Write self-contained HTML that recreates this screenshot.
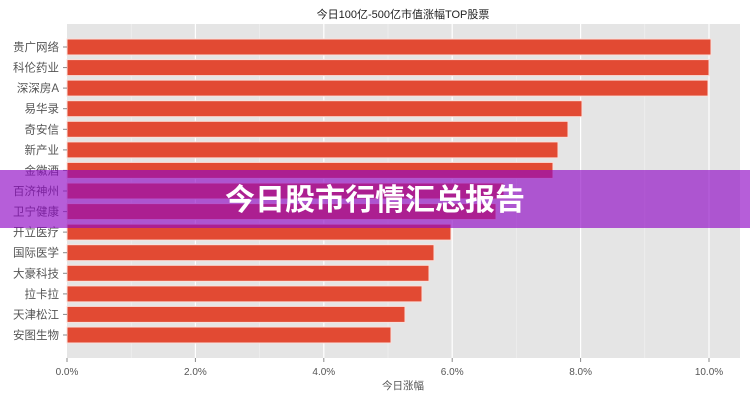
<!DOCTYPE html>
<html><head><meta charset="utf-8"><style>
body{margin:0;width:750px;height:400px;background:#fff;overflow:hidden;position:relative;font-family:"Liberation Sans","Noto Sans CJK SC",sans-serif}
</style></head><body>
<svg width="750" height="400" style="position:absolute;left:0;top:0" font-family="Liberation Sans, Noto Sans CJK SC, sans-serif">
<rect x="67" y="24" width="673" height="334" fill="#e5e5e5"/>
<g stroke="#f2f2f2" stroke-width="0.6">
<line x1="131.2" y1="24" x2="131.2" y2="358"/><line x1="259.6" y1="24" x2="259.6" y2="358"/><line x1="388" y1="24" x2="388" y2="358"/><line x1="516.4" y1="24" x2="516.4" y2="358"/><line x1="644.8" y1="24" x2="644.8" y2="358"/>
</g>
<g stroke="#fff" stroke-width="1.2">
<line x1="195.4" y1="24" x2="195.4" y2="358"/><line x1="323.8" y1="24" x2="323.8" y2="358"/><line x1="452.2" y1="24" x2="452.2" y2="358"/><line x1="580.6" y1="24" x2="580.6" y2="358"/><line x1="709" y1="24" x2="709" y2="358"/>
</g>
<g stroke="#888" stroke-width="1">
<line x1="67" y1="358" x2="67" y2="362"/><line x1="195.4" y1="358" x2="195.4" y2="362"/><line x1="323.8" y1="358" x2="323.8" y2="362"/><line x1="452.2" y1="358" x2="452.2" y2="362"/><line x1="580.6" y1="358" x2="580.6" y2="362"/><line x1="709" y1="358" x2="709" y2="362"/>
</g>
<g fill="#e24a33" stroke="#fbe0db" stroke-width="1">
<rect x="67" y="39" width="644" height="16"/>
<rect x="67" y="59.6" width="642" height="16"/>
<rect x="67" y="80.1" width="641" height="16"/>
<rect x="67" y="100.7" width="515" height="16"/>
<rect x="67" y="121.3" width="501" height="16"/>
<rect x="67" y="141.9" width="491" height="16"/>
<rect x="67" y="162.4" width="486" height="16"/>
<rect x="67" y="183" width="437" height="16"/>
<rect x="67" y="203.6" width="429" height="16"/>
<rect x="67" y="224.1" width="384" height="16"/>
<rect x="67" y="244.7" width="367" height="16"/>
<rect x="67" y="265.3" width="362" height="16"/>
<rect x="67" y="285.9" width="355" height="16"/>
<rect x="67" y="306.4" width="338" height="16"/>
<rect x="67" y="327" width="324" height="16"/>
</g>
<g stroke="#888" stroke-width="1">
<line x1="63" y1="47" x2="67" y2="47"/><line x1="63" y1="67.6" x2="67" y2="67.6"/><line x1="63" y1="88.1" x2="67" y2="88.1"/><line x1="63" y1="108.7" x2="67" y2="108.7"/><line x1="63" y1="129.3" x2="67" y2="129.3"/><line x1="63" y1="149.9" x2="67" y2="149.9"/><line x1="63" y1="170.4" x2="67" y2="170.4"/><line x1="63" y1="191" x2="67" y2="191"/><line x1="63" y1="211.6" x2="67" y2="211.6"/><line x1="63" y1="232.1" x2="67" y2="232.1"/><line x1="63" y1="252.7" x2="67" y2="252.7"/><line x1="63" y1="273.3" x2="67" y2="273.3"/><line x1="63" y1="293.9" x2="67" y2="293.9"/><line x1="63" y1="314.4" x2="67" y2="314.4"/><line x1="63" y1="335" x2="67" y2="335"/>
</g>
<g font-size="11.5" fill="#555" text-anchor="end">
<text x="59" y="51">贵广网络</text><text x="59" y="71.6">科伦药业</text><text x="59" y="92.1">深深房A</text><text x="59" y="112.7">易华录</text><text x="59" y="133.3">奇安信</text><text x="59" y="153.9">新产业</text><text x="59" y="174.4">金徽酒</text><text x="59" y="195">百济神州</text><text x="59" y="215.6">卫宁健康</text><text x="59" y="236.1">开立医疗</text><text x="59" y="256.7">国际医学</text><text x="59" y="277.3">大豪科技</text><text x="59" y="297.9">拉卡拉</text><text x="59" y="318.4">天津松江</text><text x="59" y="339">安图生物</text>
</g>
<g font-size="10" fill="#555" text-anchor="middle">
<text x="67" y="375">0.0%</text><text x="195.4" y="375">2.0%</text><text x="323.8" y="375">4.0%</text><text x="452.2" y="375">6.0%</text><text x="580.6" y="375">8.0%</text><text x="709" y="375">10.0%</text>
<text x="403" y="389" font-size="10.5">今日涨幅</text>
<text x="403" y="18" font-size="11" fill="#222">今日100亿-500亿市值涨幅TOP股票</text>
</g>
<rect x="0" y="170" width="750" height="58" fill="rgb(143,8,197)" fill-opacity="0.65"/>
<text x="375" y="210" font-size="30" font-weight="bold" fill="#fff" text-anchor="middle">今日股市行情汇总报告</text>
</svg>
</body></html>
